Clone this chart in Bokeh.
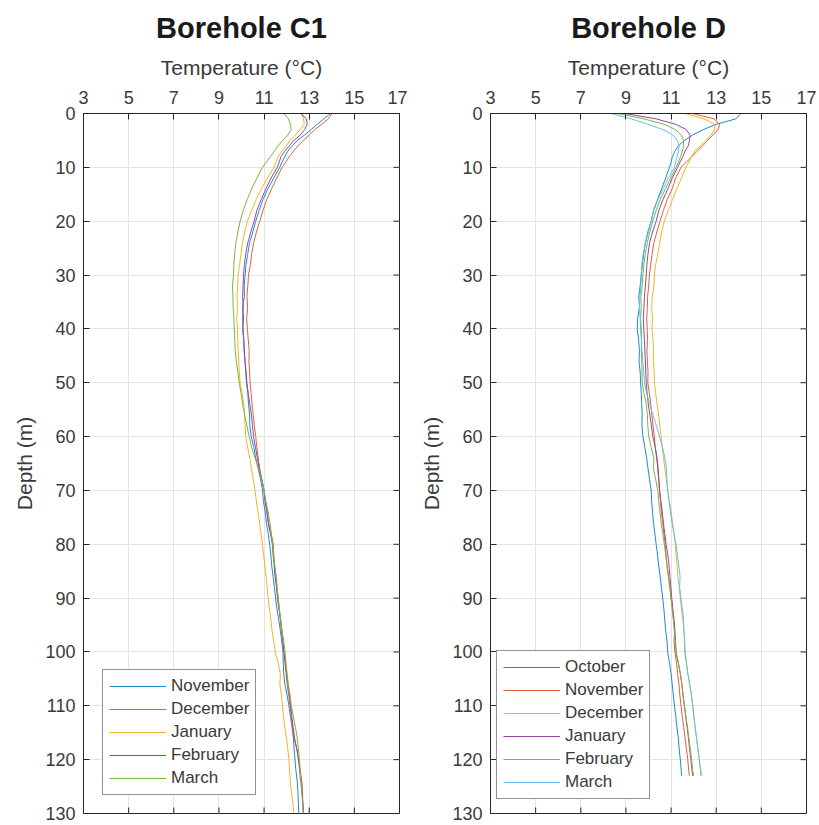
import math

from bokeh.plotting import figure
from bokeh.models import Range1d, FixedTicker
from bokeh.layouts import row
from bokeh.embed import file_html
from bokeh.resources import INLINE

# ---------------- Borehole C1 ----------------
c1_depth = [0, 1, 2, 3, 4, 5, 6, 7, 8, 9, 10,
            12, 14, 16, 18, 20, 22, 24, 26, 28, 30, 32, 34, 36, 38, 40,
            42, 44, 46, 48, 50, 52, 54, 56, 58, 60,
            62, 64, 66, 68, 70, 72, 74, 76, 78, 80,
            82, 84, 86, 88, 90, 92, 94, 96, 98, 100,
            102, 104, 106, 108, 110, 112, 114, 116, 118, 120,
            122, 124, 126, 128, 130]

c1_november = [13.94, 13.65, 13.35, 13.08, 12.80, 12.47, 12.25, 12.05, 11.92, 11.80, 11.69,
               11.43, 11.17, 10.95, 10.78, 10.63, 10.50, 10.36, 10.28, 10.20, 10.16, 10.12, 10.13, 10.04, 10.10, 10.05,
               10.10, 10.12, 10.15, 10.19, 10.22, 10.28, 10.31, 10.36, 10.37, 10.43,
               10.55, 10.63, 10.74, 10.85, 10.93, 10.97, 11.05, 11.10, 11.18, 11.25,
               11.30, 11.34, 11.40, 11.46, 11.51, 11.57, 11.65, 11.72, 11.78, 11.84,
               11.85, 11.87, 11.92, 12.02, 12.10, 12.17, 12.24, 12.30, 12.33, 12.37,
               12.41, 12.47, 12.50, 12.52, 12.54]

c1_december = [14.00, 13.85, 13.55, 13.25, 13.00, 12.74, 12.50, 12.30, 12.12, 11.96, 11.80,
               11.56, 11.33, 11.12, 10.95, 10.81, 10.66, 10.54, 10.45, 10.40, 10.31, 10.28, 10.24, 10.27, 10.23, 10.26,
               10.30, 10.34, 10.33, 10.36, 10.38, 10.43, 10.47, 10.52, 10.57, 10.63,
               10.68, 10.74, 10.81, 10.90, 11.00, 11.06, 11.15, 11.20, 11.32, 11.41,
               11.43, 11.46, 11.50, 11.57, 11.63, 11.67, 11.72, 11.76, 11.82, 11.88,
               11.92, 11.97, 12.02, 12.09, 12.15, 12.20, 12.26, 12.33, 12.45, 12.53,
               12.57, 12.62, 12.68, 12.71, 12.74]

c1_january = [12.69, 12.75, 12.78, 12.60, 12.38, 12.15, 11.98, 11.80, 11.62, 11.53, 11.44,
              11.15, 10.88, 10.65, 10.45, 10.26, 10.14, 10.04, 9.98, 9.92, 9.85, 9.83, 9.80, 9.82, 9.79, 9.82,
              9.84, 9.85, 9.88, 9.90, 9.94, 10.03, 10.10, 10.14, 10.16, 10.19,
              10.27, 10.37, 10.44, 10.52, 10.60, 10.66, 10.73, 10.80, 10.86, 10.93,
              10.98, 11.04, 11.09, 11.14, 11.18, 11.24, 11.30, 11.35, 11.43, 11.49,
              11.62, 11.72, 11.70, 11.77, 11.81, 11.86, 11.92, 11.99, 12.05, 12.10,
              12.13, 12.16, 12.21, 12.27, 12.32]

c1_february = [12.62, 12.88, 12.91, 12.80, 12.60, 12.32, 12.12, 11.92, 11.75, 11.67, 11.59,
               11.31, 11.08, 10.87, 10.68, 10.56, 10.41, 10.28, 10.19, 10.13, 10.09, 10.07, 10.05, 10.08, 10.05, 10.07,
               10.10, 10.12, 10.16, 10.20, 10.24, 10.30, 10.37, 10.44, 10.49, 10.53,
               10.62, 10.70, 10.79, 10.90, 11.00, 11.04, 11.12, 11.18, 11.28, 11.37,
               11.40, 11.45, 11.49, 11.55, 11.59, 11.66, 11.73, 11.79, 11.84, 11.88,
               11.95, 12.00, 12.06, 12.13, 12.18, 12.23, 12.29, 12.35, 12.45, 12.53,
               12.60, 12.67, 12.70, 12.72, 12.74]

c1_march = [11.88, 12.08, 12.17, 12.20, 12.05, 11.82, 11.62, 11.45, 11.28, 11.10, 10.93,
            10.68, 10.45, 10.25, 10.08, 9.94, 9.84, 9.75, 9.70, 9.66, 9.65, 9.60, 9.62, 9.63, 9.66, 9.68,
            9.70, 9.72, 9.77, 9.84, 9.90, 9.98, 10.05, 10.14, 10.24, 10.34,
            10.45, 10.60, 10.76, 10.90, 11.00, 11.08, 11.18, 11.26, 11.32, 11.37,
            11.42, 11.48, 11.54, 11.58, 11.62, 11.68, 11.74, 11.79, 11.87, 11.93,
            11.97, 12.02, 12.07, 12.15, 12.21, 12.30, 12.39, 12.47, 12.52, 12.57,
            12.60, 12.63, 12.67, 12.71, 12.74]

# ---------------- Borehole D ----------------
d_depth = [0, 1, 2, 3, 4, 5, 6, 7, 8, 9, 10,
           12, 14, 16, 18, 20, 22, 24, 26, 28, 30, 32, 34, 36, 38, 40,
           42, 44, 46, 48, 50, 52, 54, 56, 58, 60,
           62, 64, 66, 68, 70, 72, 74, 76, 78, 80,
           82, 84, 86, 88, 90, 92, 94, 96, 98, 100,
           102, 104, 106, 108, 110, 112, 114, 116, 118, 120,
           122, 123]

d_october = [14.09, 13.87, 13.00, 12.42, 11.95, 11.60, 11.32, 11.17, 11.06, 11.00, 10.93,
             10.76, 10.58, 10.40, 10.22, 10.12, 9.97, 9.86, 9.79, 9.73, 9.68, 9.63, 9.57, 9.60, 9.52, 9.50,
             9.56, 9.60, 9.58, 9.63, 9.65, 9.68, 9.70, 9.72, 9.71, 9.75,
             9.84, 9.92, 9.98, 10.05, 10.12, 10.14, 10.18, 10.22, 10.28, 10.34,
             10.40, 10.45, 10.52, 10.57, 10.63, 10.68, 10.72, 10.76, 10.82, 10.85,
             10.93, 11.00, 11.05, 11.10, 11.15, 11.21, 11.26, 11.32, 11.36, 11.41,
             11.45, 11.47]

d_november = [11.96, 12.91, 13.15, 13.08, 12.85, 12.62, 12.40, 12.15, 11.93, 11.68, 11.44,
              11.20, 11.05, 10.83, 10.66, 10.51, 10.37, 10.24, 10.16, 10.10, 10.04, 10.01, 9.96, 9.95, 9.92, 9.94,
              9.96, 9.93, 9.95, 9.98, 9.97, 10.04, 10.10, 10.15, 10.20, 10.26,
              10.30, 10.36, 10.41, 10.45, 10.49, 10.53, 10.57, 10.63, 10.68, 10.74,
              10.78, 10.82, 10.89, 10.95, 11.00, 11.06, 11.11, 11.16, 11.13, 11.17,
              11.24, 11.29, 11.35, 11.39, 11.44, 11.50, 11.56, 11.62, 11.68, 11.74,
              11.78, 11.81]

d_december = [11.63, 12.47, 12.92, 12.93, 12.76, 12.55, 12.30, 12.05, 11.90, 11.78, 11.66,
              11.46, 11.25, 11.06, 10.88, 10.70, 10.58, 10.50, 10.42, 10.32, 10.26, 10.24, 10.17, 10.14, 10.18, 10.15,
              10.20, 10.22, 10.21, 10.25, 10.26, 10.32, 10.38, 10.45, 10.50, 10.56,
              10.61, 10.67, 10.73, 10.79, 10.85, 10.92, 11.00, 11.07, 11.13, 11.19,
              11.22, 11.27, 11.30, 11.36, 11.41, 11.46, 11.52, 11.57, 11.60, 11.63,
              11.68, 11.74, 11.83, 11.90, 11.96, 12.00, 12.06, 12.13, 12.19, 12.25,
              12.32, 12.37]

d_january = [8.94, 10.34, 11.20, 11.68, 11.84, 11.82, 11.76, 11.62, 11.52, 11.40, 11.29,
             11.05, 10.86, 10.64, 10.46, 10.34, 10.18, 10.05, 9.98, 9.93, 9.90, 9.86, 9.82, 9.80, 9.77, 9.79,
             9.82, 9.84, 9.86, 9.88, 9.90, 9.94, 9.99, 10.06, 10.13, 10.19,
             10.30, 10.38, 10.43, 10.46, 10.49, 10.55, 10.61, 10.66, 10.72, 10.78,
             10.86, 10.91, 10.95, 10.99, 11.03, 11.08, 11.13, 11.17, 11.20, 11.22,
             11.32, 11.41, 11.48, 11.53, 11.59, 11.65, 11.71, 11.77, 11.82, 11.88,
             11.93, 11.96]

d_february = [8.65, 9.79, 10.70, 11.20, 11.45, 11.55, 11.56, 11.50, 11.42, 11.33, 11.22,
              10.98, 10.75, 10.52, 10.34, 10.19, 10.06, 9.95, 9.86, 9.80, 9.75, 9.72, 9.66, 9.68, 9.65, 9.68,
              9.70, 9.68, 9.70, 9.71, 9.72, 9.80, 9.90, 9.95, 9.97, 10.01,
              10.12, 10.24, 10.22, 10.32, 10.41, 10.45, 10.51, 10.56, 10.63, 10.70,
              10.76, 10.82, 10.88, 10.94, 11.00, 11.05, 11.10, 11.14, 11.18, 11.22,
              11.32, 11.41, 11.48, 11.53, 11.59, 11.66, 11.73, 11.79, 11.85, 11.91,
              11.96, 12.00]

d_march = [8.35, 9.24, 9.97, 10.65, 11.08, 11.28, 11.36, 11.33, 11.27, 11.20, 11.15,
           10.88, 10.65, 10.42, 10.24, 10.12, 10.00, 9.87, 9.77, 9.70, 9.68, 9.66, 9.62, 9.60, 9.63, 9.65,
           9.68, 9.71, 9.75, 9.79, 9.82, 9.92, 10.05, 10.20, 10.35, 10.49,
           10.62, 10.73, 10.80, 10.82, 10.85, 10.92, 10.97, 11.04, 11.13, 11.22,
           11.28, 11.34, 11.40, 11.38, 11.44, 11.50, 11.55, 11.57, 11.60, 11.60,
           11.68, 11.74, 11.82, 11.90, 11.96, 12.02, 12.07, 12.13, 12.19, 12.25,
           12.30, 12.32]

temp_ticks = [3, 5, 7, 9, 11, 13, 15, 17]
depth_ticks = [0, 10, 20, 30, 40, 50, 60, 70, 80, 90, 100, 110, 120, 130]
T_MIN, T_MAX = 3, 17
D_MAX = 130

# MATLAB-like colour order
colors = ["#1a8ccf", "#e2603a", "#f0b42c", "#92479f", "#82b33c", "#5ac3ee"]

FONT = "Liberation Sans"
INK = "#262626"
LABEL_INK = "#3a3a3a"


def style_axis(ax, ticks):
    ax.ticker = FixedTicker(ticks=ticks)
    ax.axis_line_color = INK
    ax.major_tick_line_color = INK
    ax.major_tick_in = 6
    ax.major_tick_out = 0
    ax.minor_tick_line_color = None
    ax.major_label_text_font = FONT
    ax.major_label_text_color = LABEL_INK
    ax.major_label_text_font_size = "18px"
    ax.axis_label_text_font = FONT
    ax.axis_label_text_font_style = "normal"
    ax.axis_label_text_color = LABEL_INK
    ax.axis_label_text_font_size = "21px"


def panel(title, depth, series, names, width, border_right, legend_xy):
    p = figure(width=width, height=825, output_backend="svg", toolbar_location=None,
               x_axis_location="above",
               x_range=Range1d(T_MIN, T_MAX), y_range=Range1d(D_MAX, 0),
               min_border_left=83, min_border_right=border_right,
               min_border_top=113, min_border_bottom=12)
    p.title.text = title
    p.title.align = "center"
    p.title.text_font = FONT
    p.title.text_font_size = "29px"
    p.title.text_font_style = "bold"
    p.title.text_color = "#1a1a1a"
    p.title.text_line_height = 0.8
    p.title.standoff = 17

    top = p.xaxis[0]
    left = p.yaxis[0]
    top.axis_label = "Temperature (°C)"
    left.axis_label = "Depth (m)"
    style_axis(top, temp_ticks)
    style_axis(left, depth_ticks)
    top.major_label_standoff = 10
    top.axis_label_standoff = 9
    left.major_label_standoff = 8
    left.axis_label_standoff = 6

    p.xgrid.ticker = FixedTicker(ticks=temp_ticks)
    p.ygrid.ticker = FixedTicker(ticks=depth_ticks)
    p.grid.grid_line_color = "#e4e4e4"
    p.grid.grid_line_width = 1

    p.outline_line_color = INK
    p.outline_line_width = 1
    p.background_fill_color = "white"
    p.border_fill_color = "white"

    # inward tick marks on the right and bottom edges of the box
    p.ray(x=[T_MAX] * len(depth_ticks), y=depth_ticks, length=6, length_units="screen",
          angle=math.pi, line_color=INK, line_width=1)
    p.ray(x=temp_ticks, y=[D_MAX] * len(temp_ticks), length=6, length_units="screen",
          angle=math.pi / 2, line_color=INK, line_width=1)

    for vals, name, col in zip(series, names, colors):
        p.line(vals, depth, line_color=col, line_width=1, legend_label=name)

    lg = p.legend[0]
    lg.location = legend_xy
    lg.label_text_font = FONT
    lg.label_text_font_size = "17px"
    lg.label_text_color = LABEL_INK
    lg.glyph_width = 57
    lg.glyph_height = 20
    lg.label_height = 20
    lg.spacing = 3
    lg.padding = 6
    lg.margin = 0
    lg.label_standoff = 5
    lg.border_line_color = INK
    lg.border_line_width = 1
    lg.background_fill_alpha = 1
    return p


p1 = panel("Borehole C1", c1_depth,
           [c1_november, c1_december, c1_january, c1_february, c1_march],
           ["November", "December", "January", "February", "March"],
           407, 8, (19, 18))

p2 = panel("Borehole D", d_depth,
           [d_october, d_november, d_december, d_january, d_february, d_march],
           ["October", "November", "December", "January", "February", "March"],
           412, 13, (6, 14))

layout = row(p1, p2)
open("out.html", "w").write(file_html(layout, INLINE))
